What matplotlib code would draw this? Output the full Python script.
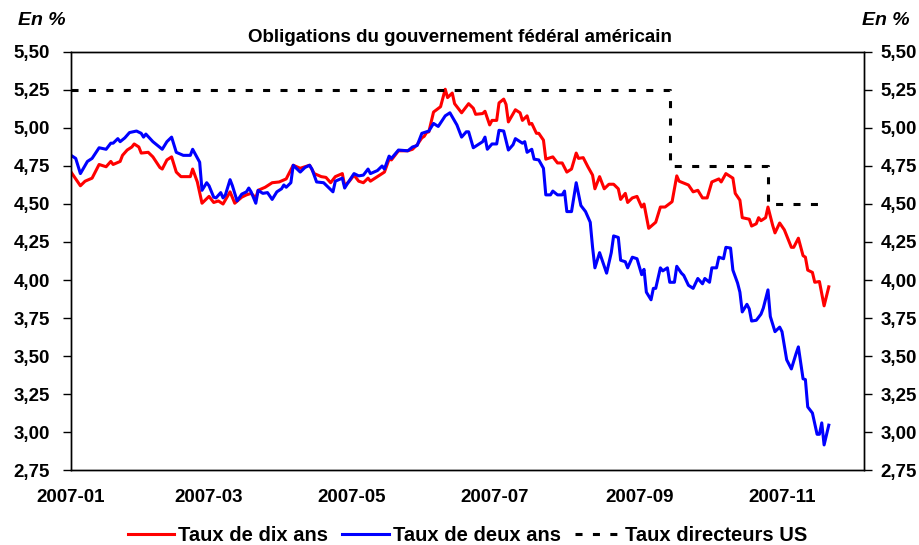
import numpy as np
import matplotlib
matplotlib.use('Agg')
import matplotlib.pyplot as plt
import matplotlib.dates as mdates
from matplotlib.ticker import FixedLocator, FuncFormatter

# --- Data (days since 2007-01-01, yields in %) ---
START = np.datetime64('2007-01-01')

ten_days = [0, 4, 6, 9, 12, 15, 17, 18, 21, 22, 24, 26, 27, 29, 30, 33, 35, 38, 39, 41,
            43, 45, 47, 51, 52, 54, 56, 59, 61, 63, 65, 68, 70, 73, 75, 77, 79, 80, 83, 86,
            89, 92, 95, 98, 100, 102, 104, 107, 109, 111, 113, 116, 117, 119, 121, 123, 125, 127, 128, 131,
            133, 134, 136, 137, 140, 144, 146, 148, 150, 151, 152, 153, 155, 158, 160, 161, 163, 164, 165, 167,
            170, 172, 173, 176, 177, 179, 180, 182, 183, 185, 186, 187, 190, 192, 193, 195, 196, 197, 199, 200,
            202, 203, 206, 208, 210, 212, 214, 216, 217, 219, 221, 223, 224, 226, 228, 230, 232, 234, 235, 237,
            238, 240, 242, 244, 245, 247, 250, 252, 254, 257, 259, 260, 264, 266, 268, 270, 272, 274, 277, 278,
            280, 283, 284, 286, 287, 290, 291, 293, 294, 295, 297, 298, 300, 301, 303, 305, 308, 309, 311, 313,
            314, 315, 317, 318, 320, 322, 324]
ten_vals = [4.71, 4.62, 4.65, 4.67, 4.76, 4.745, 4.78, 4.76, 4.78, 4.82, 4.855, 4.875, 4.895, 4.875, 4.835, 4.84, 4.81, 4.74, 4.73, 4.79,
            4.81, 4.71, 4.68, 4.68, 4.73, 4.645, 4.505, 4.55, 4.51, 4.52, 4.50, 4.58, 4.505, 4.545, 4.56, 4.57, 4.54, 4.59, 4.61, 4.64,
            4.645, 4.665, 4.755, 4.735, 4.745, 4.755, 4.70, 4.68, 4.675, 4.64, 4.68, 4.70, 4.62, 4.65, 4.69, 4.65, 4.64, 4.67, 4.65, 4.68,
            4.70, 4.71, 4.795, 4.79, 4.85, 4.85, 4.86, 4.89, 4.935, 4.945, 4.97, 4.975, 5.105, 5.14, 5.255, 5.20, 5.23, 5.16, 5.14, 5.10,
            5.16, 5.13, 5.09, 5.095, 5.11, 5.02, 5.05, 5.05, 5.165, 5.19, 5.155, 5.04, 5.12, 5.10, 5.05, 5.08, 5.025, 5.03, 4.965, 4.965,
            4.92, 4.795, 4.81, 4.77, 4.77, 4.71, 4.73, 4.835, 4.80, 4.805, 4.745, 4.69, 4.60, 4.68, 4.60, 4.63, 4.63, 4.60, 4.53, 4.57,
            4.51, 4.54, 4.55, 4.48, 4.50, 4.34, 4.38, 4.48, 4.48, 4.515, 4.685, 4.65, 4.625, 4.58, 4.59, 4.54, 4.54, 4.645, 4.665, 4.645,
            4.70, 4.67, 4.57, 4.525, 4.41, 4.40, 4.355, 4.37, 4.41, 4.39, 4.41, 4.48, 4.36, 4.31, 4.375, 4.33, 4.215, 4.215, 4.275, 4.16,
            4.15, 4.065, 4.05, 3.985, 3.99, 3.83, 3.955]

two_days = [0, 2, 4, 7, 9, 12, 15, 17, 18, 20, 21, 23, 25, 28, 30, 31, 32, 35, 39, 41,
            43, 45, 48, 51, 52, 55, 56, 58, 59, 61, 62, 64, 65, 66, 68, 69, 71, 73, 75, 76,
            77, 79, 80, 82, 84, 86, 88, 90, 91, 92, 94, 95, 98, 100, 102, 103, 105, 108, 110, 112,
            113, 116, 117, 118, 121, 123, 125, 127, 128, 131, 133, 134, 136, 137, 140, 144, 146, 148, 150, 151,
            153, 155, 157, 160, 162, 165, 167, 169, 170, 172, 173, 176, 177, 178, 180, 182, 183, 185, 187, 189,
            190, 193, 194, 195, 197, 198, 200, 202, 203, 205, 206, 208, 210, 211, 212, 214, 216, 218, 220, 222,
            223, 224, 226, 229, 231, 232, 234, 235, 237, 238, 240, 242, 244, 245, 246, 248, 249, 250, 252, 253,
            255, 256, 258, 259, 261, 262, 264, 266, 268, 270, 271, 273, 274, 276, 277, 279, 280, 282, 283, 285,
            286, 287, 289, 290, 291, 293, 295, 296, 298, 299, 301, 303, 304, 306, 308, 310, 311, 313, 314, 315,
            317, 319, 320, 321, 322, 324]
two_vals = [4.82, 4.80, 4.70, 4.78, 4.80, 4.87, 4.86, 4.90, 4.90, 4.93, 4.91, 4.935, 4.97, 4.98, 4.965, 4.94, 4.96, 4.91, 4.86, 4.91,
            4.94, 4.84, 4.82, 4.82, 4.86, 4.775, 4.59, 4.64, 4.62, 4.545, 4.54, 4.575, 4.54, 4.56, 4.66, 4.62, 4.52, 4.565, 4.58, 4.605,
            4.58, 4.505, 4.59, 4.57, 4.575, 4.53, 4.58, 4.60, 4.625, 4.61, 4.64, 4.755, 4.71, 4.74, 4.755, 4.73, 4.645, 4.64, 4.61, 4.58,
            4.65, 4.67, 4.605, 4.63, 4.70, 4.685, 4.69, 4.73, 4.70, 4.72, 4.75, 4.73, 4.815, 4.80, 4.855, 4.85, 4.875, 4.885, 4.965, 4.97,
            4.98, 5.03, 5.01, 5.08, 5.10, 5.02, 4.94, 4.975, 4.975, 4.87, 4.88, 4.91, 4.94, 4.86, 4.895, 4.895, 4.985, 4.98, 4.855, 4.89,
            4.93, 4.90, 4.91, 4.84, 4.86, 4.795, 4.79, 4.735, 4.56, 4.56, 4.585, 4.56, 4.56, 4.585, 4.45, 4.45, 4.64, 4.49, 4.45, 4.38,
            4.215, 4.08, 4.18, 4.045, 4.18, 4.29, 4.28, 4.13, 4.12, 4.08, 4.15, 4.14, 4.035, 4.07, 3.92, 3.87, 3.945, 3.945, 4.08, 4.06,
            4.08, 3.985, 3.985, 4.09, 4.045, 4.03, 3.965, 3.945, 4.01, 3.975, 4.01, 3.985, 4.08, 4.08, 4.15, 4.14, 4.215, 4.21, 4.065, 3.98,
            3.92, 3.79, 3.84, 3.81, 3.73, 3.735, 3.775, 3.815, 3.935, 3.76, 3.66, 3.69, 3.66, 3.475, 3.415, 3.515, 3.56, 3.35, 3.345, 3.165,
            3.125, 2.985, 2.985, 3.06, 2.915, 3.045]

policy_days = [0, 256, 298, 320]
policy_vals = [5.25, 4.75, 4.50, 4.50]

y_ticks = [2.75, 3.00, 3.25, 3.50, 3.75, 4.00, 4.25, 4.50, 4.75, 5.00, 5.25, 5.50]

labels = ['Taux de dix ans', 'Taux de deux ans', 'Taux directeurs US']

plt.rcParams['font.family'] = ['Liberation Sans', 'DejaVu Sans']
plt.rcParams['font.weight'] = 'bold'

def to_dates(days):
    return START + np.array(days, dtype='timedelta64[D]')

fig = plt.figure(figsize=(9.19, 5.45), dpi=100)
ax = fig.add_axes([0.0773, 0.1376, 0.8627, 0.767])

ax.plot(to_dates(ten_days), ten_vals, color='#ff0000', lw=2.2, label=labels[0])
ax.plot(to_dates(two_days), two_vals, color='#0000ff', lw=2.2, label=labels[1])
ax.plot(to_dates(policy_days), policy_vals, color='black', lw=2.2,
        drawstyle='steps-post', dashes=(2.3, 3.4), label=labels[2])

ax.set_ylim(2.75, 5.50)
ax.set_xlim(to_dates([0])[0], to_dates([339])[0])

comma_fmt = FuncFormatter(lambda v, p: f'{v:.2f}'.replace('.', ','))
ax.yaxis.set_major_locator(FixedLocator(y_ticks))
ax.yaxis.set_major_formatter(comma_fmt)
ax.tick_params(axis='y', direction='out', length=6, width=1, labelsize=13.5, pad=9)

ax.xaxis.set_major_locator(mdates.MonthLocator(bymonth=[1, 3, 5, 7, 9, 11]))
ax.xaxis.set_major_formatter(mdates.DateFormatter('%Y-%m'))
ax.tick_params(axis='x', length=0, labelsize=13.5, pad=14)

ax2 = ax.twinx()
ax2.set_ylim(2.75, 5.50)
ax2.yaxis.set_major_locator(FixedLocator(y_ticks))
ax2.yaxis.set_major_formatter(comma_fmt)
ax2.tick_params(axis='y', direction='out', length=6, width=1, labelsize=13.5, pad=6)

for a in (ax, ax2):
    for s in a.spines.values():
        s.set_linewidth(1.0)

fig.text(0.5, 0.932, 'Obligations du gouvernement fédéral américain',
         ha='center', va='center', fontsize=13.5, fontweight='bold')
fig.text(0.046, 0.962, 'En %', ha='center', va='center', fontsize=14,
         fontweight='bold', style='italic')
fig.text(0.964, 0.962, 'En %', ha='center', va='center', fontsize=14,
         fontweight='bold', style='italic')

fig.legend(loc='center', bbox_to_anchor=(0.509, 0.018), ncol=3, frameon=False,
           fontsize=14.5, handlelength=2.3, handletextpad=0.2, columnspacing=0.7,
           borderpad=0)

fig.savefig('out.png', dpi=100)
